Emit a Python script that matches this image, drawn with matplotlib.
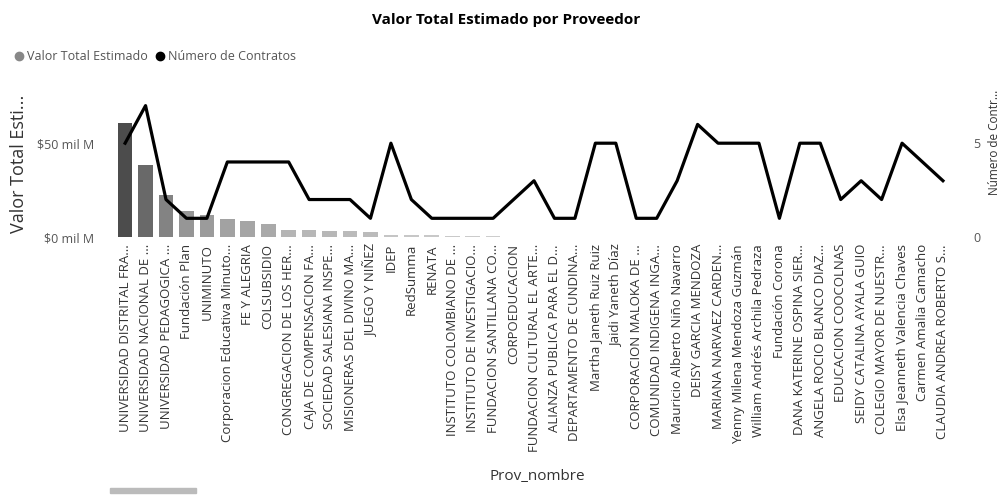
import numpy as np
import matplotlib.pyplot as plt
from matplotlib.lines import Line2D
from matplotlib.patches import Rectangle

plt.rcParams['font.family'] = ['Open Sans', 'DejaVu Sans']

# datos
proveedores = [
    "UNIVERSIDAD DISTRITAL FRA...", "UNIVERSIDAD NACIONAL DE ...",
    "UNIVERSIDAD PEDAGOGICA ...", "Fundación Plan", "UNIMINUTO",
    "Corporacion Educativa Minuto...", "FE Y ALEGRIA", "COLSUBSIDIO",
    "CONGREGACION DE LOS HER...", "CAJA DE COMPENSACION FA...",
    "SOCIEDAD SALESIANA INSPE...", "MISIONERAS DEL DIVINO MA...",
    "JUEGO Y NIÑEZ", "IDEP", "RedSumma", "RENATA",
    "INSTITUTO COLOMBIANO DE ...", "INSTITUTO DE INVESTIGACIO...",
    "FUNDACION SANTILLANA CO...", "CORPOEDUCACION",
    "FUNDACION CULTURAL EL ARTE...", "ALIANZA PUBLICA PARA EL D...",
    "DEPARTAMENTO DE CUNDINA...", "Martha Janeth Ruiz Ruiz",
    "Jaidi Yaneth Díaz", "CORPORACION MALOKA DE ...",
    "COMUNIDAD INDIGENA INGA...", "Mauricio Alberto Niño Navarro",
    "DEISY GARCIA MENDOZA", "MARIANA NARVAEZ CARDEN...",
    "Yenny Milena Mendoza Guzmán", "William Andrés Archila Pedraza",
    "Fundación Corona", "DANA KATERINE OSPINA SIER...",
    "ANGELA ROCIO BLANCO DIAZ...", "EDUCACION COOCOLNAS",
    "SEIDY CATALINA AYALA GUIO", "COLEGIO MAYOR DE NUESTR...",
    "Elsa Jeanneth Valencia Chaves", "Carmen Amalia Camacho",
    "CLAUDIA ANDREA ROBERTO S...",
]

# valor total estimado, en mil M
valor_mil_m = [60.6, 38.5, 22.6, 13.7, 11.9, 9.4, 8.4, 7.1, 3.9, 3.6,
               3.5, 3.0, 2.8, 1.2, 1.0, 0.9, 0.8, 0.6, 0.4, 0.3,
               0.25, 0.22, 0.2, 0.18, 0.16, 0.15, 0.14, 0.12, 0.11, 0.1,
               0.09, 0.08, 0.07, 0.06, 0.05, 0.05, 0.04, 0.04, 0.03, 0.03,
               0.02]

num_contratos = [5, 7, 2, 1, 1, 4, 4, 4, 4, 2, 2, 2, 1, 5, 2, 1, 1, 1, 1, 2,
                 3, 1, 1, 5, 5, 1, 1, 3, 6, 5, 5, 5, 1, 5, 5, 2, 3, 2, 5, 4, 3]

fig = plt.figure(figsize=(10.02, 4.96), dpi=100)
ax = fig.add_axes([0.1118, 0.522, 0.8413, 0.276])

x = np.arange(len(proveedores))
v = np.array(valor_mil_m)
g = 0.85 - 0.55 * np.sqrt(v / v.max())
colores = [(c, c, c) for c in g]

ax.bar(x, v, width=0.72, color=colores)
ax.set_xlim(-0.64, len(proveedores) - 1 + 0.59)
ax.set_ylim(0, 72.9)
ax.set_yticks([0, 50])
ax.set_yticklabels(["$0 mil M", "$50 mil M"])
ax.set_xticks(x)
ax.set_xticklabels(proveedores, rotation=90, fontsize=9.5, color='#333333')
ax.tick_params(axis='both', length=0)
ax.tick_params(axis='y', pad=13, labelsize=9, labelcolor='#555555')
ax.tick_params(axis='x', pad=5)

ax2 = ax.twinx()
ax2.plot(x, num_contratos, color='black', lw=2.3)
ax2.set_ylim(0, 7.29)
ax2.set_yticks([0, 5])
ax2.tick_params(axis='y', length=0, pad=13, labelsize=9, labelcolor='#555555')

for a in (ax, ax2):
    for s in a.spines.values():
        s.set_visible(False)

fig.text(0.505, 1 - 20 / 496, "Valor Total Estimado por Proveedor",
         ha='center', va='center', fontsize=11, fontweight='bold')
fig.text(19 / 1002, 1 - 164 / 496, "Valor Total Esti...", rotation=90,
         ha='center', va='center', fontsize=13, color='#333333')
fig.text(995 / 1002, 1 - 142 / 496, "Número de Contr...", rotation=90,
         ha='center', va='center', fontsize=8.5, color='#333333')
fig.text(537 / 1002, 1 - 477 / 496, "Prov_nombre",
         ha='center', va='center', fontsize=11, color='#333333')

handles = [
    Line2D([], [], ls='', marker='o', ms=6, color='#888888'),
    Line2D([], [], ls='', marker='o', ms=6, color='black'),
]
fig.legend(handles, ["Valor Total Estimado", "Número de Contratos"],
           loc='center left', bbox_to_anchor=(0.008, 1 - 57 / 496), ncol=2,
           frameon=False, fontsize=9, handletextpad=0.1, columnspacing=0.5,
           borderaxespad=0, handlelength=1, labelcolor='#555555')

# barra de desplazamiento
fig.patches.append(Rectangle((110 / 1002, 1 - 493 / 496), 86 / 1002, 5 / 496,
                             transform=fig.transFigure, color='#bbbbbb'))

fig.savefig("out.png", dpi=100)
